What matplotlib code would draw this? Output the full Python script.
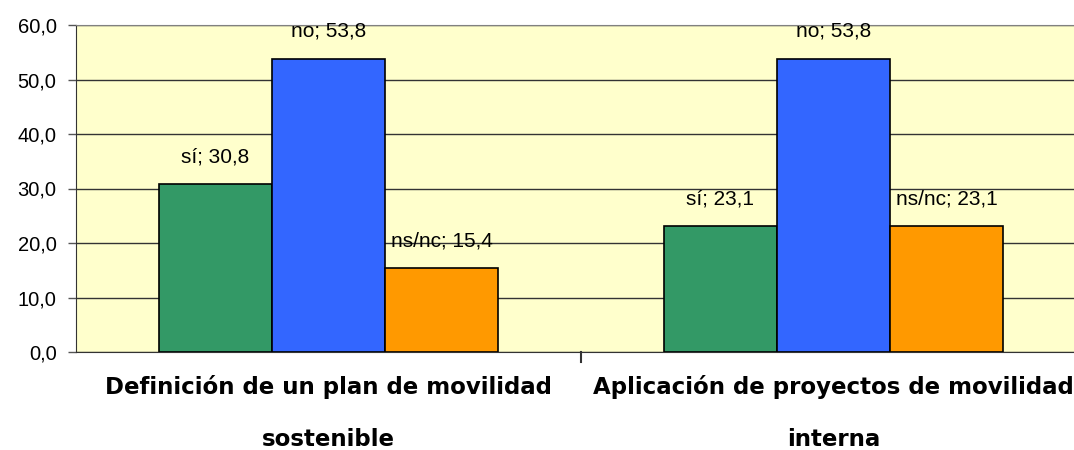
import matplotlib
matplotlib.use("Agg")
import matplotlib.pyplot as plt
import numpy as np

# data
categories = ["Definición de un plan de movilidad\nsostenible",
              "Aplicación de proyectos de movilidad\ninterna"]
series = ["sí", "no", "ns/nc"]
values = [[30.8, 23.1],
          [53.8, 53.8],
          [15.4, 23.1]]
colors = ["#339966", "#3366FF", "#FF9900"]
ytick_labels = ["0,0", "10,0", "20,0", "30,0", "40,0", "50,0", "60,0"]

fig = plt.figure(figsize=(10.74, 4.5), dpi=100)
ax = fig.add_axes([76 / 1074, 98 / 450, 1010 / 1074, 327 / 450])
ax.set_facecolor("#FFFFCC")

x = np.arange(len(categories))
w = 0.224
for i, name in enumerate(series):
    pos = x + (i - 1) * w
    ax.bar(pos, values[i], width=w, color=colors[i], edgecolor="black",
           linewidth=1.2, zorder=3)
    for px, v in zip(pos, values[i]):
        lab = name + "; " + ("%.1f" % v).replace(".", ",")
        ax.annotate(lab, (px, v), xytext=(0, 13), textcoords="offset points",
                    ha="center", va="bottom", fontsize=15,
                    family="Liberation Sans", zorder=4)

ax.set_xlim(-0.5, 1.5)
ax.set_ylim(0, 60)
ax.set_yticks(np.arange(0, 61, 10))
ax.set_yticklabels(ytick_labels, fontsize=14.5, family="Liberation Sans")
ax.yaxis.grid(True, color="#333333", linewidth=1)
ax.set_axisbelow(True)

ax.set_xticks([0.5])
ax.set_xticklabels([])
ax.tick_params(axis="x", length=0)
ax.tick_params(axis="y", length=6, width=1, color="#555555", pad=8)

ax.spines["right"].set_visible(False)
ax.spines["top"].set_color("#808080")
ax.spines["left"].set_color("#333333")
ax.spines["bottom"].set_color("#333333")
ax.axvline(0.5, ymin=-0.03, ymax=0, color="#333333", linewidth=1.5,
           clip_on=False)

for xi, c in zip(x, categories):
    ax.text(xi, -4.3, c, ha="center", va="top", fontsize=16.5,
            fontweight="bold", family="DejaVu Sans", linespacing=2.6)

fig.savefig("out.png", dpi=100)
